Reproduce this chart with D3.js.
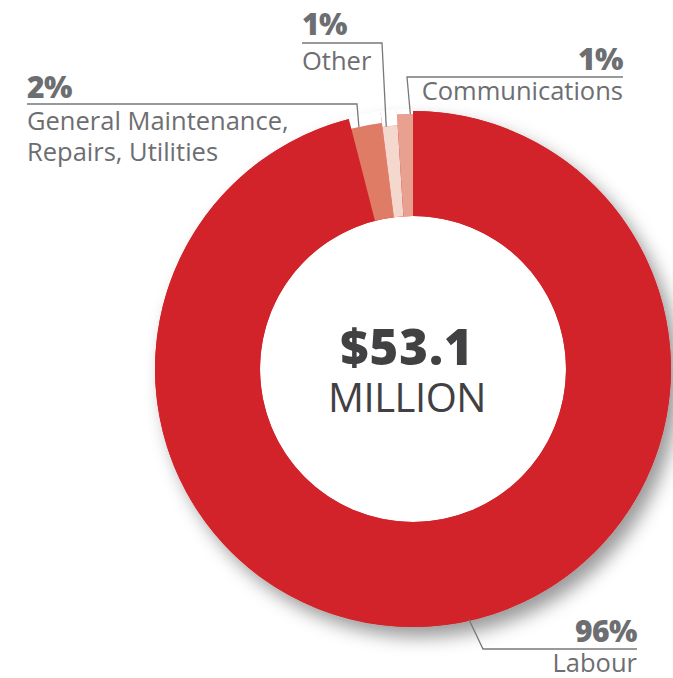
<!DOCTYPE html>
<html>
<head>
<meta charset="utf-8">
<script src="https://cdn.jsdelivr.net/npm/d3@7"></script>
<style>
  html, body { margin: 0; padding: 0; background: #fff; }
  svg { display: block; }
</style>
</head>
<body>
<svg id="chart"></svg>
<script>
const width = 673;
const height = 678;

// data
const categories = ["Labour", "General Maintenance, Repairs, Utilities", "Other", "Communications"];
const shares = [96, 2, 1, 1];
const pctLabels = ["96%", "2%", "1%", "1%"];
const labelLines = [["Labour"], ["General Maintenance,", "Repairs, Utilities"], ["Other"], ["Communications"]];
const totalText = "$53.1";
const unitText = "MILLION";

// styles
const cx = 413, cy = 369;
const innerR = 153;
const colors = ["#d2232a", "#df7c65", "#f4d7cd", "#e9a18f"];
const outerRs = [258, 248, 244, 255];
const textColor = "#6d6e71";
const lineColor = "#77787b";

// label layout: percentage baseline, rule (x0, x1, y), first text baseline, leader end
const labelLayout = [
  { x: 637, pctY: 642, rule: [483, 637, 649], textY: 672, anchor: "end", leadR: 257, leadDeg: -5.4, elbowX: 483 },
  { x: 27, pctY: 98, rule: [27, 357, 104], textY: 130, anchor: "start", leadR: 248, leadDeg: -1.8, elbowX: 357 },
  { x: 302, pctY: 35, rule: [302, 382, 43], textY: 70, anchor: "start", leadR: 244, leadDeg: -0.9, elbowX: 382 },
  { x: 623, pctY: 70, rule: [407, 623, 77], textY: 100, anchor: "end", leadR: 255, leadDeg: 1.2, elbowX: 407 }
];

const svg = d3.select("#chart")
  .attr("width", width)
  .attr("height", height);

const defs = svg.append("defs");
const shadow = defs.append("filter")
  .attr("id", "shadow")
  .attr("x", "-20%").attr("y", "-20%")
  .attr("width", "140%").attr("height", "140%");
shadow.append("feDropShadow")
  .attr("dx", 8).attr("dy", 10)
  .attr("stdDeviation", 9)
  .attr("flood-color", "#000")
  .attr("flood-opacity", 0.4);

const pie = d3.pie().sort(null).value(d => d)(shares);

const g = svg.append("g").attr("transform", `translate(${cx},${cy})`);

/* ---------------------------
Shadow under the ring
--------------------------- */
g.append("circle")
  .attr("r", outerRs[0])
  .attr("fill", colors[0])
  .attr("filter", "url(#shadow)");
g.append("circle")
  .attr("r", innerR)
  .attr("fill", "#fff");

/* ---------------------------
Slices
--------------------------- */
g.selectAll("path.slice")
  .data(pie)
  .enter()
  .append("path")
  .attr("class", "slice")
  .attr("fill", (d, i) => colors[i])
  .attr("d", (d, i) => d3.arc().innerRadius(innerR).outerRadius(outerRs[i])(d));

// white out the underlay above the shorter slices
g.selectAll("path.notch")
  .data(pie.slice(1))
  .enter()
  .append("path")
  .attr("class", "notch")
  .attr("fill", "#fff")
  .attr("d", (d, i) => d3.arc().innerRadius(outerRs[i + 1]).outerRadius(outerRs[0] + 2)(d));

/* ---------------------------
Center text
--------------------------- */
g.append("text")
  .attr("text-anchor", "middle")
  .attr("x", -6)
  .attr("y", -4)
  .attr("fill", "#414042")
  .style("font-family", "'Open Sans', sans-serif")
  .style("font-weight", 800)
  .style("font-size", "49px")
  .style("letter-spacing", "1px")
  .text(totalText);

g.append("text")
  .attr("text-anchor", "middle")
  .attr("x", -6)
  .attr("y", 43)
  .attr("fill", "#414042")
  .style("font-family", "'Open Sans', sans-serif")
  .style("font-size", "40px")
  .style("letter-spacing", "-0.5px")
  .text(unitText);

/* ---------------------------
Labels and leaders
--------------------------- */
const labels = svg.append("g");

pie.forEach((d, i) => {
  const L = labelLayout[i];
  const mid = (d.startAngle + d.endAngle) / 2 + L.leadDeg * Math.PI / 180;
  const ex = cx + L.leadR * Math.sin(mid);
  const ey = cy - L.leadR * Math.cos(mid);
  const ry = L.rule[2];

  labels.append("path")
    .attr("fill", "none")
    .attr("stroke", lineColor)
    .attr("stroke-width", 1.3)
    .attr("d", L.anchor === "start"
      ? `M${L.rule[0]},${ry}H${L.elbowX}L${ex},${ey}`
      : `M${L.rule[1]},${ry}H${L.elbowX}L${ex},${ey}`);

  labels.append("text")
    .attr("x", L.x)
    .attr("y", L.pctY)
    .attr("text-anchor", L.anchor)
    .attr("fill", textColor)
    .style("font-family", "'Open Sans', sans-serif")
    .style("font-weight", 800)
    .style("font-size", "30px")
    .style("letter-spacing", "-0.5px")
    .text(pctLabels[i]);

  labelLines[i].forEach((line, j) => {
    labels.append("text")
      .attr("x", L.x)
      .attr("y", L.textY + j * 31)
      .attr("text-anchor", L.anchor)
      .attr("fill", textColor)
      .style("font-family", "'Open Sans', sans-serif")
      .style("font-size", "25.5px")
      .text(line);
  });
});
</script>
</body>
</html>
